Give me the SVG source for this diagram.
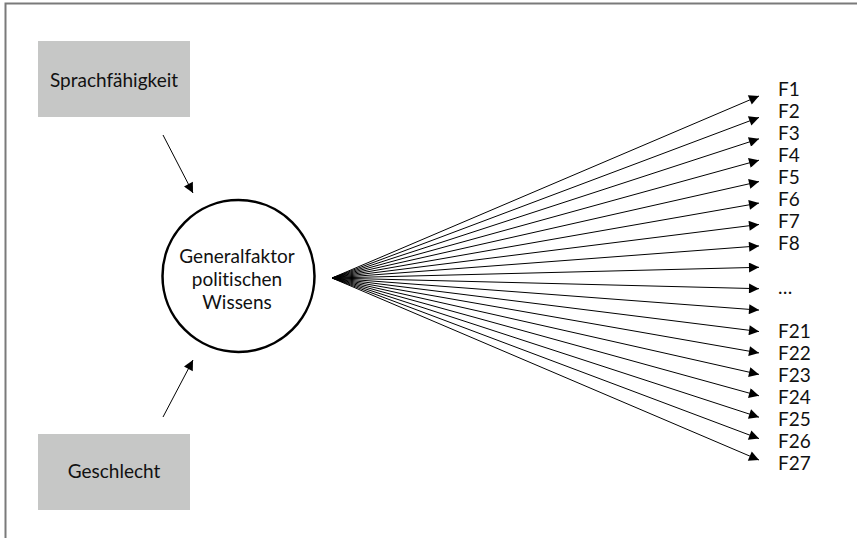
<svg xmlns="http://www.w3.org/2000/svg" width="857" height="538" viewBox="0 0 857 538">
<style>
.box{fill:#c6c7c6}
.t{font-family:Lato,"Liberation Sans",sans-serif;font-size:19px;fill:#111;font-variant-ligatures:none}
.c{stroke:#000;stroke-width:1;fill:none}
</style>
<defs>
<marker id="ah" viewBox="0 0 10 10" refX="10" refY="5" markerWidth="12" markerHeight="10" markerUnits="userSpaceOnUse" orient="auto">
<path d="M0,0 L10,5 L0,10 z" fill="#000"/>
</marker>
</defs>
<rect width="857" height="538" fill="#fff"/>
<path d="M5.5,538 V3.5 H857" fill="none" stroke="#7a7a7a" stroke-width="2"/>
<g id="sprach">
<rect class="box" x="38" y="41" width="152" height="76"/>
<text class="t" x="114" y="87" text-anchor="middle">Sprachfähigkeit</text>
</g>
<g id="geschlecht">
<rect class="box" x="38" y="434" width="152" height="76"/>
<text class="t" x="114" y="478" text-anchor="middle">Geschlecht</text>
</g>
<g id="factor">
<circle cx="238.5" cy="276" r="76" fill="#fff" stroke="#000" stroke-width="2.5"/>
<text class="t" text-anchor="middle"><tspan x="237" y="263">Generalfaktor</tspan><tspan x="237" y="286">politischen</tspan><tspan x="237" y="309">Wissens</tspan></text>
</g>
<g id="labels">
<text class="t" x="778" y="96">F1</text>
<text class="t" x="778" y="118">F2</text>
<text class="t" x="778" y="140">F3</text>
<text class="t" x="778" y="162">F4</text>
<text class="t" x="778" y="184">F5</text>
<text class="t" x="778" y="206">F6</text>
<text class="t" x="778" y="228">F7</text>
<text class="t" x="778" y="250">F8</text>
<text class="t" x="778" y="294">…</text>
<text class="t" x="778" y="338">F21</text>
<text class="t" x="778" y="360">F22</text>
<text class="t" x="778" y="382">F23</text>
<text class="t" x="778" y="404">F24</text>
<text class="t" x="778" y="426">F25</text>
<text class="t" x="778" y="448">F26</text>
<text class="t" x="778" y="470">F27</text>
</g>
<g id="connectors">
<line class="c" x1="163" y1="135" x2="193" y2="193" marker-end="url(#ah)"/>
<line class="c" x1="163" y1="417" x2="193" y2="360" marker-end="url(#ah)"/>
<line class="c" x1="332" y1="278" x2="759" y2="96" marker-end="url(#ah)"/>
<line class="c" x1="332" y1="278" x2="759" y2="117.4" marker-end="url(#ah)"/>
<line class="c" x1="332" y1="278" x2="759" y2="138.8" marker-end="url(#ah)"/>
<line class="c" x1="332" y1="278" x2="759" y2="160.2" marker-end="url(#ah)"/>
<line class="c" x1="332" y1="278" x2="759" y2="181.6" marker-end="url(#ah)"/>
<line class="c" x1="332" y1="278" x2="759" y2="203.1" marker-end="url(#ah)"/>
<line class="c" x1="332" y1="278" x2="759" y2="224.5" marker-end="url(#ah)"/>
<line class="c" x1="332" y1="278" x2="759" y2="245.9" marker-end="url(#ah)"/>
<line class="c" x1="332" y1="278" x2="759" y2="267.3" marker-end="url(#ah)"/>
<line class="c" x1="332" y1="278" x2="759" y2="288.7" marker-end="url(#ah)"/>
<line class="c" x1="332" y1="278" x2="759" y2="310.1" marker-end="url(#ah)"/>
<line class="c" x1="332" y1="278" x2="759" y2="331.5" marker-end="url(#ah)"/>
<line class="c" x1="332" y1="278" x2="759" y2="352.9" marker-end="url(#ah)"/>
<line class="c" x1="332" y1="278" x2="759" y2="374.4" marker-end="url(#ah)"/>
<line class="c" x1="332" y1="278" x2="759" y2="395.8" marker-end="url(#ah)"/>
<line class="c" x1="332" y1="278" x2="759" y2="417.2" marker-end="url(#ah)"/>
<line class="c" x1="332" y1="278" x2="759" y2="438.6" marker-end="url(#ah)"/>
<line class="c" x1="332" y1="278" x2="759" y2="460" marker-end="url(#ah)"/>
</g>
</svg>
